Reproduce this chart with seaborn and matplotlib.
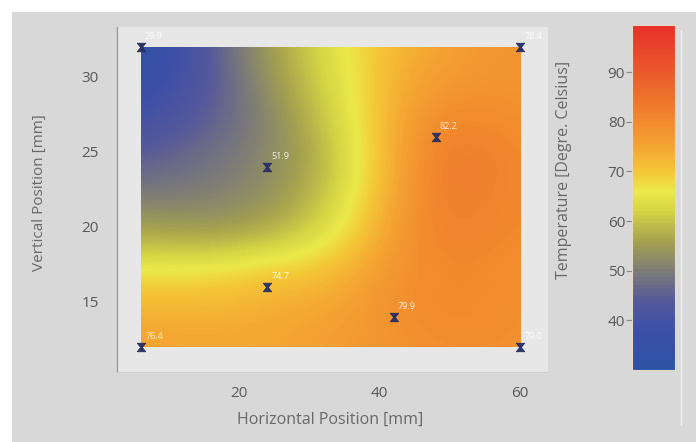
import numpy as np
import pandas as pd
import matplotlib
matplotlib.use("Agg")
import matplotlib.pyplot as plt
import seaborn as sns
from matplotlib.colors import LinearSegmentedColormap, Normalize
from matplotlib.patches import Rectangle
from matplotlib.path import Path
from matplotlib.lines import Line2D

# Measurement points: position [mm] and temperature [deg C]
point_x = [6, 60, 24, 48, 24, 42, 6, 60]
point_y = [32, 32, 24, 26, 16, 14, 12, 12]
point_temp = [29.9, 78.4, 51.9, 82.2, 74.7, 79.9, 76.4, 79.0]

# Temperature field on a regular grid (rows from top y=32 to bottom y=12)
grid_x = [6, 12, 18, 24, 30, 36, 42, 48, 54, 60]
grid_y = [32, 29.5, 27, 24.5, 22, 19.5, 17, 14.5, 12]
field = [
    [32, 39, 47, 55, 61, 67, 72, 75, 77, 78],
    [36, 40, 46, 53, 60, 66, 73, 77, 78, 78],
    [40, 43, 47, 51, 58, 65, 74, 80, 80, 79],
    [45, 47, 49, 52, 56, 64, 74, 82, 83, 80],
    [50, 50, 51, 53, 58, 65, 75, 82, 82, 80],
    [57, 56, 56, 58, 62, 68, 77, 81, 81, 80],
    [67, 67, 68, 70, 70, 74, 78, 80, 80, 79],
    [73, 73, 73, 74, 75, 76, 79, 80, 80, 79],
    [76, 75, 75, 75, 76, 77, 78, 79, 79, 79],
]

cbar_ticks = [40, 50, 60, 70, 80, 90]
x_ticks = [20, 40, 60]
y_ticks = [15, 20, 25, 30]

# Colour scale from blue through grey and yellow to red
t_min, t_max = 30, 99.5
nodes = [(30, "#2a52a6"), (38, "#3d4fa8"), (44, "#56599a"), (50, "#7e7d76"),
         (56, "#a6a34e"), (62, "#d5d444"), (66, "#ebe949"), (70, "#f4c737"),
         (75, "#f4a532"), (80, "#f28a2e"), (90, "#ea5a2c"), (99.5, "#e8302a")]
cmap = LinearSegmentedColormap.from_list(
    "temp", [((v - t_min) / (t_max - t_min), c) for v, c in nodes])
norm = Normalize(t_min, t_max)

sns.set_style("white")
plt.rcParams["font.family"] = ["Open Sans", "DejaVu Sans"]

TICK_COLOR = "#8a8a8a"
TICKLABEL_COLOR = "#585858"
LABEL_COLOR = "#686868"

fig = plt.figure(figsize=(6.96, 4.42), dpi=100, facecolor="white")
W, H = 696, 442
# grey backdrop
fig.patches.append(Rectangle((12 / W, 0), 1, 1 - 12 / H, transform=fig.transFigure,
                             facecolor="#d8d8d8", edgecolor="none", zorder=-5))

ax = fig.add_axes([117 / W, 1 - 372 / H, (548 - 117) / W, (372 - 27) / H])
ax.set_facecolor("#e7e7e7")

dx = (grid_x[1] - grid_x[0]) / 2
dy = (grid_y[0] - grid_y[1]) / 2
im = ax.imshow(np.array(field, dtype=float), cmap=cmap, norm=norm,
               extent=(grid_x[0] - dx, grid_x[-1] + dx, grid_y[-1] - dy, grid_y[0] + dy),
               origin="upper", interpolation="bicubic", aspect="auto", zorder=1)
clip = Rectangle((grid_x[0], grid_y[-1]), grid_x[-1] - grid_x[0], grid_y[0] - grid_y[-1],
                 transform=ax.transData, facecolor="none", edgecolor="none")
ax.add_patch(clip)
im.set_clip_path(clip)

# hourglass marker
hourglass = Path([(-1, 1), (1, 1), (0.2, 0), (1, -1), (-1, -1), (-0.2, 0), (-1, 1)],
                 [Path.MOVETO] + [Path.LINETO] * 5 + [Path.CLOSEPOLY])
pts = pd.DataFrame({"x": point_x, "y": point_y, "t": point_temp})
sns.scatterplot(data=pts, x="x", y="y", marker=hourglass, s=38, color="#2a3570",
                edgecolor="#1d2550", linewidth=0.5, ax=ax, zorder=5, clip_on=False)
for x, y, t in zip(point_x, point_y, point_temp):
    ax.annotate(f"{t:.1f}", (x, y), xytext=(3, 4), textcoords="offset points",
                ha="left", va="bottom", fontsize=6.5, color="white", alpha=0.85,
                zorder=6, annotation_clip=False)

ax.set_xlim(2.6, 64.0)
ax.set_ylim(10.33, 33.33)
ax.set_xticks(x_ticks)
ax.set_yticks(y_ticks)

# ticks sit slightly away from the panel edges
for side in ["top", "right"]:
    ax.spines[side].set_visible(False)
ax.spines["left"].set_position(("outward", 8))
ax.spines["bottom"].set_position(("outward", 2))
for side in ["left", "bottom"]:
    ax.spines[side].set_color("none")
ax.plot([0, 0], [0, 1], transform=ax.transAxes, color="#9a9a9a", lw=1.0,
        clip_on=False, zorder=7)
ax.plot([0, 1], [0, 0], transform=ax.transAxes, color="#cfcfcf", lw=0.8,
        clip_on=False, zorder=7)

ax.tick_params(axis="both", direction="out", length=4, width=0.8, color=TICK_COLOR,
               labelsize=11, labelcolor=TICKLABEL_COLOR)
ax.tick_params(axis="x", pad=4)
ax.tick_params(axis="y", pad=1)
ax.set_xlabel("Horizontal Position [mm]", fontsize=11.5, color=LABEL_COLOR)
ax.set_ylabel("Vertical Position [mm]", fontsize=11, color=LABEL_COLOR)
ax.xaxis.set_label_coords(0.495, -0.115)
ax.yaxis.set_label_coords(-0.163, 0.52)

# colour bar
cax = fig.add_axes([632 / W, 1 - 370 / H, 43 / W, 345 / H])
cb = fig.colorbar(im, cax=cax, ticks=cbar_ticks)
cb.outline.set_edgecolor("#e6d8c8")
cb.outline.set_linewidth(0.8)
cax.yaxis.set_ticks_position("left")
cax.yaxis.set_label_position("left")
cax.tick_params(direction="out", length=4, width=0.8, color=TICK_COLOR,
                labelsize=11, labelcolor=TICKLABEL_COLOR, pad=1)
cb.set_label("Temperature [Degre. Celsius]", fontsize=11.5, color=LABEL_COLOR)
cax.yaxis.set_label_coords(-1.4, 0.58)

fig.add_artist(Line2D([681 / W, 681 / W], [1 - 30 / H, 1 - 425 / H],
                      transform=fig.transFigure, color="#f0f0f0", linewidth=1))

fig.savefig("out.png", dpi=100, facecolor=fig.get_facecolor())
